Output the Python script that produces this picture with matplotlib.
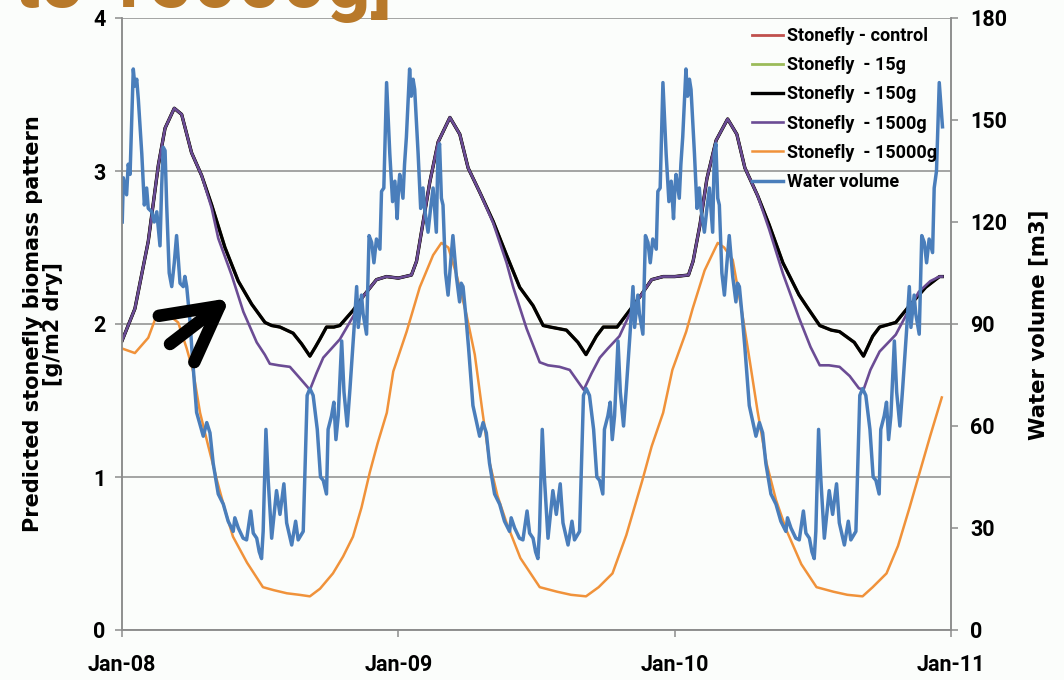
import numpy as np
import matplotlib.pyplot as plt

# --- data: x is months after 1 Jan 2008 ---
year_ticks = [0, 12, 24, 36]
year_labels = ["Jan-08", "Jan-09", "Jan-10", "Jan-11"]

# 150g run (control and 15g lie under this line)
b150_month = [0.0, 0.56, 1.14, 1.58, 1.87, 2.27, 2.59, 3.02, 3.46, 3.89, 4.47, 5.05, 5.63, 6.21,
              6.5, 6.86, 7.43, 7.8, 8.16, 8.4, 8.59, 8.88, 9.2, 9.46, 10.04, 10.47, 11.05, 11.49,
              12.0, 12.57, 12.79, 13.08, 13.37, 13.73, 14.24, 14.67, 15.03, 15.54, 16.12, 16.7,
              17.27, 17.85, 18.29, 18.6, 19.3, 19.8, 20.15, 20.6, 20.9, 21.5, 21.9, 22.5, 23.0,
              23.5, 24.0, 24.6, 24.8, 25.1, 25.4, 25.8, 26.3, 26.7, 27.05, 27.6, 28.1, 28.7, 29.4,
              29.8, 30.3, 30.8, 31.16, 31.8, 32.2, 32.6, 32.9, 33.6, 34.2, 34.9, 35.5, 35.62]
b150_val = [1.89, 2.10, 2.54, 3.04, 3.28, 3.41, 3.37, 3.12, 2.97, 2.78, 2.50, 2.28, 2.13, 2.01,
            1.99, 1.98, 1.94, 1.87, 1.79, 1.85, 1.90, 1.98, 1.98, 1.99, 2.09, 2.18, 2.29, 2.31,
            2.30, 2.32, 2.41, 2.67, 2.93, 3.19, 3.35, 3.24, 3.02, 2.86, 2.67, 2.45,
            2.24, 2.12, 1.99, 1.98, 1.96, 1.88, 1.80, 1.92, 1.98, 1.98, 2.06, 2.18, 2.29,
            2.31, 2.31, 2.32, 2.41, 2.65, 2.95, 3.20, 3.34, 3.24, 3.02, 2.84, 2.65, 2.40, 2.19,
            2.10, 1.99, 1.96, 1.95, 1.88, 1.79, 1.92, 1.98, 2.01, 2.12, 2.24, 2.31, 2.31]
ctrl_val = list(b150_val)
s15_val = list(b150_val)

b1500_month = [0.0, 0.56, 1.14, 1.58, 1.87, 2.27, 2.59, 3.02, 3.46, 3.89, 4.18, 4.76, 5.27, 5.85,
               6.2, 6.42, 6.8, 7.29, 7.7, 8.16, 8.45, 8.74, 9.1, 9.46, 10.04, 10.47, 11.05, 11.49,
               12.0, 12.57, 12.79, 13.08, 13.37, 13.73, 14.24, 14.67, 15.03, 15.54, 16.12, 16.7,
               16.99, 17.57, 18.14, 18.5, 19.0, 19.44, 20.05, 20.4, 20.75, 21.1, 21.6, 22.0, 22.5,
               23.0, 23.5, 24.0, 24.6, 24.8, 25.1, 25.4, 25.8, 26.3, 26.7, 27.05, 27.6, 28.1, 28.7,
               29.4, 29.9, 30.3, 30.7, 31.16, 31.6, 32.0, 32.2, 32.5, 32.9, 33.6, 34.2, 34.6, 35.1,
               35.5, 35.62]
b1500_val = [1.89, 2.10, 2.54, 3.04, 3.28, 3.41, 3.37, 3.12, 2.97, 2.76, 2.56, 2.32, 2.08, 1.88,
             1.80, 1.74, 1.73, 1.72, 1.65, 1.57, 1.68, 1.78, 1.84, 1.90, 2.05, 2.18, 2.29, 2.31,
             2.30, 2.32, 2.41, 2.67, 2.93, 3.19, 3.35, 3.24, 3.02, 2.86, 2.66, 2.40,
             2.24, 1.97, 1.75, 1.73, 1.72, 1.70, 1.57, 1.68, 1.78, 1.84, 1.92, 2.05, 2.18,
             2.29, 2.31, 2.31, 2.32, 2.41, 2.65, 2.95, 3.20, 3.34, 3.24, 3.02, 2.84, 2.62, 2.33,
             2.04, 1.85, 1.73, 1.73, 1.72, 1.66, 1.58, 1.57, 1.70, 1.82, 1.93, 2.10, 2.21, 2.28,
             2.31, 2.31]

b15000_month = [0.0, 0.56, 1.14, 1.51, 1.7, 2.1, 2.44, 2.81, 3.09, 3.39, 3.75, 4.12, 4.48, 4.82,
                5.43, 6.12, 6.6, 7.16, 7.7, 8.16, 8.6, 9.16, 9.6, 10.03, 10.4, 10.76, 11.1, 11.5,
                11.78, 12.36, 12.93, 13.51, 13.87, 14.17, 14.53, 14.96, 15.32, 15.65, 15.97, 16.3,
                16.7, 17.3, 18.14, 18.9, 19.5, 20.15, 20.7, 21.3, 21.9, 22.6, 23.0, 23.5, 23.9,
                24.5, 24.78, 25.3, 25.87, 26.15, 26.52, 26.9, 27.26, 27.6, 27.99, 28.4, 28.86,
                29.5, 30.16, 30.9, 31.5, 32.16, 32.6, 33.2, 33.7, 34.2, 34.64, 35.1, 35.6]
b15000_val = [1.84, 1.81, 1.91, 2.06, 2.08, 2.05, 2.01, 1.84, 1.69, 1.42, 1.20, 0.98, 0.78, 0.61,
              0.44, 0.28, 0.26, 0.24, 0.23, 0.22, 0.27, 0.37, 0.48, 0.61, 0.80, 1.03, 1.22, 1.42,
              1.69, 1.95, 2.24, 2.45, 2.53, 2.50, 2.32, 2.06, 1.80, 1.43, 1.09, 0.88,
              0.70, 0.47, 0.28, 0.25, 0.23, 0.22, 0.28, 0.37, 0.62, 0.98, 1.20, 1.42, 1.70,
              1.95, 2.10, 2.35, 2.53, 2.50, 2.42, 2.10, 1.76, 1.43, 1.09, 0.85, 0.65,
              0.43, 0.28, 0.25, 0.23, 0.22, 0.28, 0.37, 0.55, 0.80, 1.03, 1.27, 1.52]

# water volume [m3]; month within each year
water_month = [0.01, 0.06, 0.20, 0.27, 0.35, 0.49, 0.56, 0.64, 0.71, 0.86,
               0.97, 1.07, 1.14, 1.29, 1.40, 1.51, 1.65, 1.72, 1.79, 1.87,
               1.94, 2.05, 2.16, 2.27, 2.37, 2.52, 2.66, 2.73, 2.81, 2.95,
               3.05, 3.24, 3.53, 3.68, 3.82, 3.96, 4.18, 4.40, 4.61, 4.83,
               4.90, 5.05, 5.26, 5.41, 5.59, 5.70, 5.85, 5.96, 6.06, 6.13,
               6.25, 6.35, 6.50, 6.71, 6.86, 7.03, 7.15, 7.37, 7.54, 7.65,
               7.87, 8.04, 8.16, 8.30, 8.48, 8.62, 8.74, 8.88, 8.95, 9.10,
               9.20, 9.29, 9.39, 9.54, 9.64, 9.78, 9.90, 10.07, 10.19, 10.26,
               10.40, 10.47, 10.62, 10.73, 10.84, 10.94, 11.05, 11.20, 11.27, 11.37,
               11.49, 11.63, 11.75, 11.85, 11.95]
water_2008 = [120, 133, 128, 137, 134, 165, 160, 162, 156, 140,
              125, 130, 124, 123, 120, 123, 113, 130, 142, 141,
              125, 105, 101, 108, 116, 102, 101, 104, 101, 91,
              81, 64, 57, 61, 58, 49, 40, 37, 32, 29,
              33, 30, 27, 26.5, 35, 28.5, 27, 23, 21, 29,
              59, 44, 27, 41, 34, 43, 31.5, 25, 32, 26.5,
              29, 69, 71, 69, 59, 45, 44, 40, 59, 63,
              67, 56, 63, 85, 70, 60, 71, 88, 101, 89,
              98.5, 93, 87, 116, 114, 108, 115, 112, 129, 130,
              161, 140, 126, 132, 121]
water_2009 = [130, 134, 127, 137, 145, 165, 157, 162, 159, 140,
              124, 130, 124, 117, 124, 130, 117, 140, 143, 127,
              125, 105, 98.5, 108, 116, 104, 96.5, 102, 101, 91,
              83, 66, 57, 61, 58, 49, 40, 37, 32, 29,
              33, 30, 27, 26.5, 35, 28.5, 27, 23, 21, 29,
              59, 44, 27, 41, 34, 43, 31.5, 25, 32, 26.5,
              29, 69, 71, 69, 59, 45, 44, 40, 59, 63,
              67, 56, 63, 85, 70, 60, 71, 88, 101, 89,
              98.5, 93, 87, 116, 114, 108, 115, 112, 129, 130,
              161, 140, 126, 132, 121]
water_2010 = [130, 134, 127, 137, 145, 165, 157, 162, 159, 140,
              124, 130, 124, 117, 124, 130, 117, 140, 143, 127,
              125, 105, 98.5, 108, 116, 104, 96.5, 102, 101, 91,
              83, 66, 57, 61, 58, 49, 40, 37, 32, 29,
              33, 30, 27, 26.5, 35, 28.5, 27, 23, 21, 29,
              59, 44, 27, 41, 34, 43, 31.5, 25, 32, 26.5,
              29, 69, 71, 69, 59, 45, 44, 40, 59, 63,
              67, 56, 63, 85, 70, 60, 71, 88, 101, 89,
              98.5, 93, 87, 116, 114, 108, 115, 111, 130, 135,
              161, 148]

labels = ["Stonefly - control", "Stonefly  - 15g", "Stonefly  - 150g",
          "Stonefly  - 1500g", "Stonefly  - 15000g", "Water volume"]
colors = ["#C0504D", "#9BBB59", "#000000", "#6B4C94", "#F0923A", "#4A7EBB"]

# --- figure ---
plt.rcParams['font.family'] = ['Roboto', 'DejaVu Sans']
fig = plt.figure(figsize=(10.64, 6.8), dpi=100)
fig.patch.set_facecolor('#fbfdfb')
ax = fig.add_axes([122/1064, 50/680, 829/1064, 612/680])
ax.set_facecolor('#fbfdfb')

water_x = np.concatenate([np.array(water_month),
                          np.array(water_month) + 12,
                          np.array(water_month[:len(water_2010)]) + 24])
water_y = np.concatenate([water_2008, water_2009, water_2010])

h = []
h += ax.plot(b150_month, ctrl_val, color=colors[0], lw=2.0)
h += ax.plot(b150_month, s15_val, color=colors[1], lw=2.0)
h += ax.plot(b150_month, b150_val, color=colors[2], lw=2.4)
h += ax.plot(b1500_month, b1500_val, color=colors[3], lw=1.9)
h += ax.plot(b15000_month, b15000_val, color=colors[4], lw=1.8)

ax2 = ax.twinx()
h += ax2.plot(water_x, water_y, color=colors[5], lw=2.5)

grey = '#8c8c8c'
ax.set_xlim(0, 36)
ax.set_ylim(0, 4)
ax2.set_ylim(0, 180)
ax.set_xticks(year_ticks)
ax.set_xticklabels(year_labels, fontweight='bold')
ax.set_yticks([0, 1, 2, 3, 4])
ax.set_yticklabels(['0', '1', '2', '3', '4'], fontweight='bold')
ax2.set_yticks(range(0, 181, 30))
ax2.set_yticklabels([str(v) for v in range(0, 181, 30)], fontweight='bold')
ax.yaxis.grid(True, color=grey, lw=1.1)
ax.set_axisbelow(True)

for a in (ax, ax2):
    for s in a.spines.values():
        s.set_color(grey)
        s.set_linewidth(1.1)
    a.spines['top'].set_visible(False)
ax.tick_params(axis='y', length=5, width=1.1, color=grey, pad=7, labelsize=15.5)
ax.tick_params(axis='x', length=5, width=1.1, color=grey, pad=12, labelsize=15.5)
ax2.tick_params(axis='y', length=5, width=1.1, color=grey, pad=9, labelsize=15.5)

fig.text(43/1064, 1 - 324/680, "Predicted stonefly biomass pattern\n[g/m2 dry]",
         rotation=90, ha='center', va='center', multialignment='center',
         family='DejaVu Sans', fontsize=15, fontweight='bold', linespacing=1.05)
fig.text(1038/1064, 1 - 325/680, "Water volume [m3]", rotation=90, ha='center', va='center',
         family='DejaVu Sans', fontsize=15.3, fontweight='bold')

leg = ax2.legend(h, labels, loc='upper left', bbox_to_anchor=(752/1064, 1 - 27/680),
                 bbox_transform=fig.transFigure, frameon=False, handlelength=1.72,
                 handletextpad=0.22, labelspacing=0.62, borderpad=0, borderaxespad=0,
                 prop={'family': 'Roboto', 'weight': 'bold', 'size': 13})

# hand-drawn arrow pointing at the 150g curve
ax2.annotate('', xy=(230, 382), xycoords='figure pixels', xytext=(170, 336),
             textcoords='figure pixels',
             arrowprops=dict(arrowstyle='->,head_length=3.9,head_width=2.1', lw=9,
                             color='black', shrinkA=0, shrinkB=0, mutation_scale=10))

# cut-off heading text at the top of the slide
fig.text(14/1064, 1 - 7/680, "to 15000g]", fontsize=56, fontweight='bold',
         color='#B8792A', va='baseline')

fig.savefig('out.png', dpi=100, facecolor=fig.get_facecolor())
